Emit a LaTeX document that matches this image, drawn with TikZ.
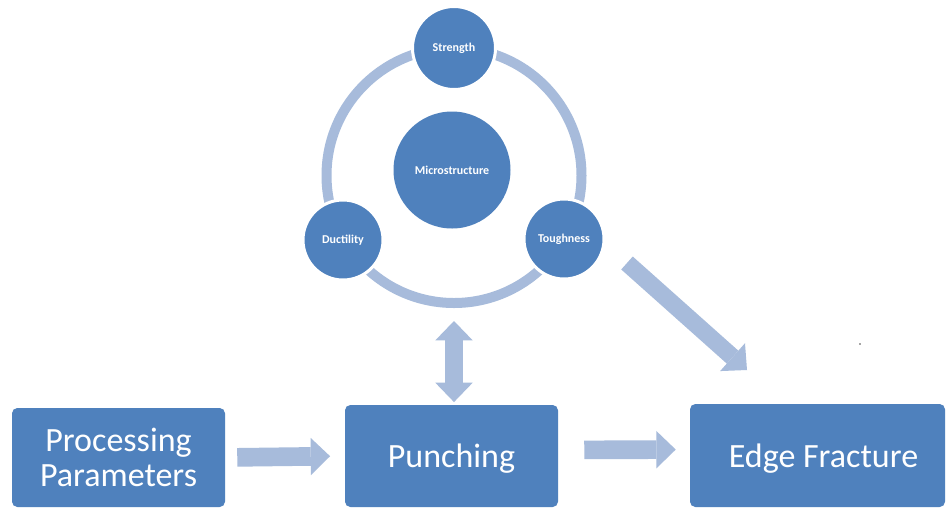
\documentclass[tikz,border=0pt]{standalone}
\usepackage{fontspec}
\setmainfont{Carlito}
\usetikzlibrary{arrows.meta}
\definecolor{boxblue}{RGB}{79,129,189}
\definecolor{lightblue}{RGB}{167,187,219}
\begin{document}
\begin{tikzpicture}[x=0.75pt,y=-0.75pt,
  boxnode/.style={fill=boxblue, rounded corners=4pt, text=white, align=center,
    inner sep=0pt, font=\fontsize{25.5}{27.75}\selectfont},
  circnode/.style={circle, fill=boxblue, draw=white, line width=2.25pt, text=white,
    inner sep=0pt, font=\fontsize{9}{10}\selectfont\bfseries},
  blockarrow/.style={draw=lightblue, line width=14pt,
    -{Triangle[width=28pt,length=14.5pt,line width=0pt]}},
  dblarrow/.style={draw=lightblue, line width=13.5pt,
    {Triangle[width=28pt,length=14.5pt,line width=0pt]}-{Triangle[width=28pt,length=14.5pt,line width=0pt]}}
]
\useasboundingbox (0,0) rectangle (950,508);
\fill[white] (0,0) rectangle (950,508);

% ring
\draw[lightblue, line width=7.5pt] (454,175.5) circle (127.5);

% circles
\node[circnode, minimum size=87.75pt, draw=none] (mic) at (452,170) {Microstructure};
\node[circnode, minimum size=62.25pt] (str) at (454,48) {Strength};
\node[circnode, minimum size=60pt] (duc) at (343,240) {Ductility};
\node[circnode, minimum size=60pt] (tou) at (564,239) {Toughness};

% boxes
\node[boxnode, minimum width=159.75pt, minimum height=74.25pt] (pp) at (118.5,457.5) {Processing\\[-1pt]Parameters};
\node[boxnode, minimum width=159.75pt, minimum height=76.5pt, text depth=0pt] (pun) at (451.5,456) {Punching};
\node[boxnode, minimum width=191.25pt, minimum height=77.25pt, text depth=0pt] (ef) at (817.5,455.5) {\hspace*{9pt}Edge Fracture};

% arrows
\draw[blockarrow, shorten <=9pt, shorten >=11pt] (pp.east) -- (pun.west);
\draw[blockarrow, shorten <=19.5pt, shorten >=10.5pt] ([yshift=4.5pt]pun.east) -- ([yshift=4.5pt]ef.west);
\coordinate (ringbot) at (454,303);
\draw[dblarrow, shorten <=13.5pt, shorten >=2pt] (ringbot) -- (ringbot |- pun.north);
\coordinate (dstart) at (627,263);
\coordinate (dend) at (747,370);
\draw[blockarrow, line width=13pt] (dstart) -- (dend);

% speck
\fill[black!70] (860,344) circle (0.8);
\end{tikzpicture}
\end{document}
